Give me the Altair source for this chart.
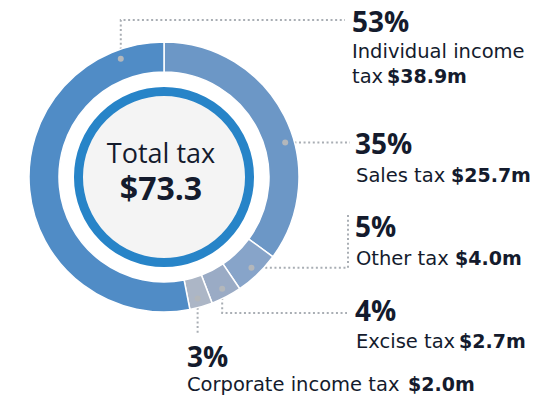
import math
import altair as alt
import pandas as pd

# ---- data ----
categories = ["Sales tax", "Other tax", "Excise tax", "Corporate income tax", "Individual income tax"]
values = [25.7, 4.0, 2.7, 2.0, 38.9]
pct_labels = ["35%", "5%", "4%", "3%", "53%"]
value_labels = ["$25.7m", "$4.0m", "$2.7m", "$2.0m", "$38.9m"]
total_label = "$73.3"
center_title = "Total tax"
colors = ["#6c97c6", "#87a4c9", "#9aabc5", "#acb6c6", "#508cc6"]

# ---- layout (image pixel coords) ----
W, H = 523, 388
M = 8
CX, CY = 164, 177
R_OUT, R_IN = 135, 105
RING_R, RING_W = 96.5, 9
anchor_frac = [0.587, 0.5, 0.5, 0.55, 0.895]
anchor_r = 126
pct_pos = [(355, 154), (355, 237), (355, 321), (187, 367), (352, 32)]
text_lines = [
    [("Sales tax", 356, 182)],
    [("Other tax", 356, 265)],
    [("Excise tax", 356, 348)],
    [("Corporate income tax", 187, 391)],
    [("Individual income", 352, 58), ("tax", 352, 83)],
]
value_pos = [(451, 182), (455, 265), (459, 348), (408, 391), (387, 83)]

TEXT = "#141b2d"
FONT = "DejaVu Sans"
FONT_BIG = "Open Sans"

total = sum(values)
df = pd.DataFrame({"cat": categories, "value": values, "idx": list(range(len(values)))})

# anchor dots from cumulative angles
dots = []
cum = 0.0
for i, v in enumerate(values):
    a0 = cum / total * 2 * math.pi
    a1 = (cum + v) / total * 2 * math.pi
    ang = a0 + anchor_frac[i] * (a1 - a0)
    dots.append((CX + anchor_r * math.sin(ang), CY - anchor_r * math.cos(ang)))
    cum += v

dots_df = pd.DataFrame({"x": [d[0] for d in dots], "y": [d[1] for d in dots], "cat": categories})

# leader polylines
lines = []
def add(seg, pts):
    for k, (x, y) in enumerate(pts):
        lines.append({"seg": seg, "k": k, "x": x, "y": y})

add(0, [dots[0], (350, dots[0][1])])
add(1, [dots[1], (348, dots[1][1]), (348, 215)])
add(2, [dots[2], (dots[2][0], 313), (347, 313)])
add(3, [dots[3], (dots[3][0], 335)])
add(4, [dots[4], (dots[4][0], 20), (345, 20)])
lines_df = pd.DataFrame(lines)

pct_df = pd.DataFrame({"x": [p[0] for p in pct_pos], "y": [p[1] for p in pct_pos], "t": pct_labels})
reg_rows = []
for lst in text_lines:
    for t, x, y in lst:
        reg_rows.append({"x": x, "y": y, "t": t})
reg_df = pd.DataFrame(reg_rows)
val_df = pd.DataFrame({"x": [p[0] for p in value_pos], "y": [p[1] for p in value_pos], "t": value_labels})
center_df = pd.DataFrame({"x": [CX - 3, CX - 3], "y": [163, 200], "t": [center_title, total_label]})

xs = alt.Scale(domain=[M, M + W], range=[0, W], nice=False, zero=False)
ys = alt.Scale(domain=[M, M + H], range=[0, H], nice=False, zero=False)

def X(f="x"):
    return alt.X(f + ":Q", scale=xs, axis=None)

def Y(f="y"):
    return alt.Y(f + ":Q", scale=ys, axis=None)

arcs = alt.Chart(df).mark_arc(outerRadius=R_OUT, innerRadius=R_IN, stroke="white", strokeWidth=1.5).encode(
    theta=alt.Theta("value:Q", stack=True),
    order=alt.Order("idx:Q"),
    color=alt.Color("cat:N", scale=alt.Scale(domain=categories, range=colors), legend=None),
    x=alt.value(CX - M),
    y=alt.value(CY - M),
)

ring = alt.Chart(pd.DataFrame({"a": [0]})).mark_point(
    shape="circle", size=math.pi * RING_R ** 2, filled=True, fill="#f4f4f4",
    stroke="#2784c8", strokeWidth=RING_W, opacity=1, fillOpacity=1, strokeOpacity=1,
).encode(x=alt.value(CX - M), y=alt.value(CY - M))

leaders = alt.Chart(lines_df).mark_line(strokeDash=[2, 2.6], strokeWidth=2, color="#a9aeb4").encode(
    x=X(), y=Y(), detail="seg:N", order="k:Q"
)

dot_marks = alt.Chart(dots_df).mark_circle(size=36, color="#b3b7bb", opacity=1).encode(x=X(), y=Y())

pct_text = alt.Chart(pct_df).mark_text(align="left", baseline="alphabetic", font=FONT_BIG, fontSize=28,
                                       fontWeight="bold", color=TEXT).encode(x=X(), y=Y(), text="t:N")
reg_text = alt.Chart(reg_df).mark_text(align="left", baseline="alphabetic", font=FONT, fontSize=19.5,
                                       color=TEXT).encode(x=X(), y=Y(), text="t:N")
val_text = alt.Chart(val_df).mark_text(align="left", baseline="alphabetic", font=FONT, fontSize=19,
                                       fontWeight="bold", color=TEXT).encode(x=X(), y=Y(), text="t:N")
c1 = alt.Chart(center_df.iloc[[0]]).mark_text(align="center", baseline="alphabetic", font=FONT_BIG, fontSize=27,
                                              color=TEXT).encode(x=X(), y=Y(), text="t:N")
c2 = alt.Chart(center_df.iloc[[1]]).mark_text(align="center", baseline="alphabetic", font=FONT_BIG, fontSize=32,
                                              fontWeight="bold", color=TEXT).encode(x=X(), y=Y(), text="t:N")

chart = alt.layer(leaders, arcs, ring, dot_marks, pct_text, reg_text, val_text, c1, c2).properties(
    width=W, height=H, padding=0, autosize=alt.AutoSizeParams(type="none"), background="white"
).configure_view(stroke=None)

chart.save("out.html", embed_options={"renderer": "svg", "actions": False})
